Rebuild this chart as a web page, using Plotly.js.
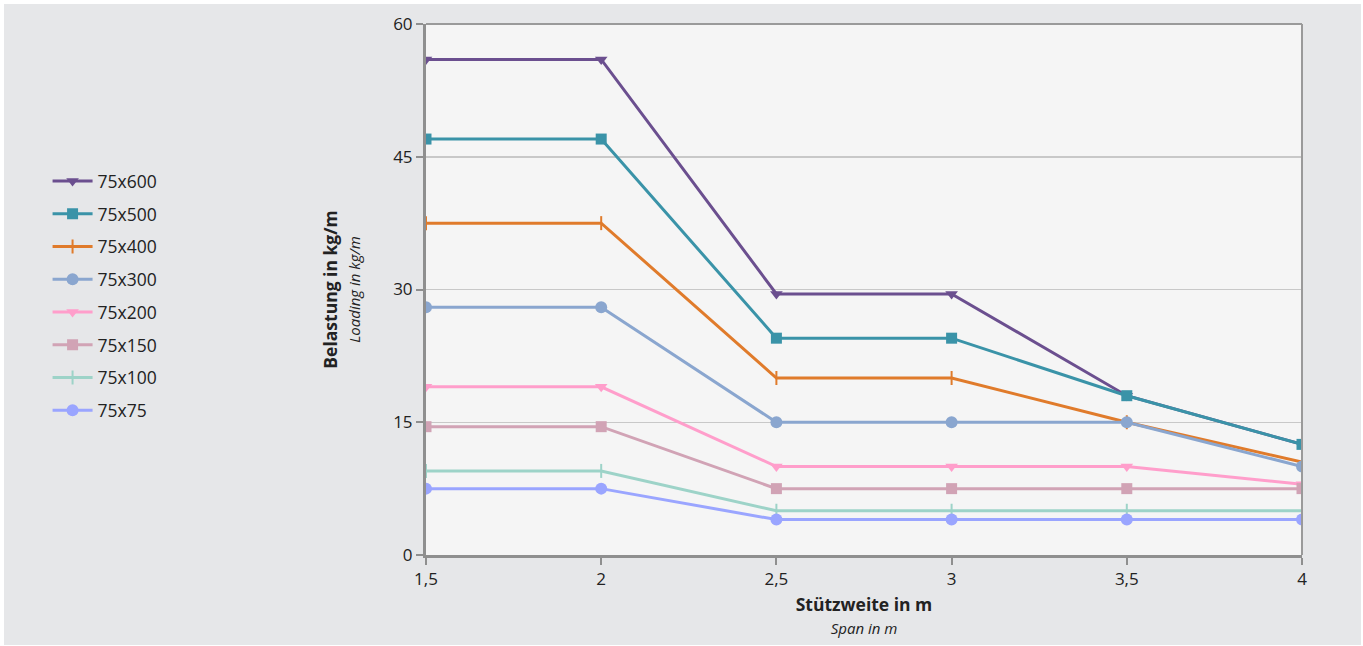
<!DOCTYPE html>
<html><head><meta charset="utf-8">
<script src="https://cdn.plot.ly/plotly-3.0.1.min.js"></script>
<style>
html,body{margin:0;padding:0;background:#ffffff;}
#chart{position:absolute;left:4px;top:4px;width:1357px;height:641px;}
</style></head>
<body><div id="chart"></div>
<script>
const spans = [1.5, 2, 2.5, 3, 3.5, 4];
const seriesNames = ['75x600','75x500','75x400','75x300','75x200','75x150','75x100','75x75'];
const v75x600 = [56, 56, 29.5, 29.5, 18, 12.5];
const v75x500 = [47, 47, 24.5, 24.5, 18, 12.5];
const v75x400 = [37.5, 37.5, 20, 20, 15, 10.5];
const v75x300 = [28, 28, 15, 15, 15, 10];
const v75x200 = [19, 19, 10, 10, 10, 8];
const v75x150 = [14.5, 14.5, 7.5, 7.5, 7.5, 7.5];
const v75x100 = [9.5, 9.5, 5, 5, 5, 5];
const v75x75 = [7.5, 7.5, 4, 4, 4, 4];
const xTickVals = [1.5, 2, 2.5, 3, 3.5, 4];
const xTickText = ['1,5', '2', '2,5', '3', '3,5', '4'];
const yTickVals = [0, 15, 30, 45, 60];

const values = [v75x600, v75x500, v75x400, v75x300, v75x200, v75x150, v75x100, v75x75];
const colors = ['#6b4f8f','#3a93a8','#e07b2b','#8aa6cf','#ff9ecb','#d1a3b5','#9dd3c8','#9aa5ff'];
const symbols = ['triangle-down','square','line-ns','circle','triangle-down','square','line-ns','circle'];

const traces = seriesNames.map((n, i) => {
  const isLine = symbols[i] === 'line-ns';
  return {
    x: spans, y: values[i], name: n, type: 'scatter', mode: 'lines+markers',
    legendgroup: n,
    line: {color: colors[i], width: 3},
    marker: isLine
      ? {symbol: 'line-ns', size: 10, color: colors[i], line: {color: colors[i], width: 2}}
      : {symbol: symbols[i], size: symbols[i]==='circle' ? 12 : 11, color: colors[i]},
    cliponaxis: true
  };
});

const layout = {
  width: 1357, height: 641,
  paper_bgcolor: '#e6e7e9', plot_bgcolor: '#f5f5f5',
  margin: {l: 422, r: 59, t: 20, b: 90},
  separators: ',.',
  font: {family: '"Open Sans", sans-serif', size: 17, color: '#222'},
  showlegend: true,
  legend: {x: -0.432, xanchor: 'left', y: 0.738, yanchor: 'top',
           bgcolor: 'rgba(0,0,0,0)', font: {size: 17.5, color: '#222'},
           tracegroupgap: 7, itemwidth: 40},
  shapes: [
    {type: 'line', xref: 'paper', yref: 'paper', x0: 0, x1: 1, y0: 1, y1: 1,
     line: {color: '#9a9a9a', width: 2}},
    {type: 'line', xref: 'paper', yref: 'paper', x0: 1, x1: 1, y0: 0, y1: 1,
     line: {color: '#9a9a9a', width: 2}}
  ],
  xaxis: {
    range: [1.5, 4], tickvals: xTickVals, ticktext: xTickText,
    showgrid: false, zeroline: false,
    showline: true, linecolor: '#8f8f8f', linewidth: 3, mirror: false,
    ticks: 'outside', ticklen: 7, tickwidth: 2, tickcolor: '#8f8f8f',
    tickfont: {size: 17, color: '#222'},
    title: {text: '<b>Stützweite in m</b><br><i><span style="font-size:15px">Span in m</span></i>',
            font: {size: 17.5, color: '#222'}, standoff: 10}
  },
  yaxis: {
    range: [0, 60], tickvals: yTickVals,
    showgrid: true, gridcolor: '#c8c8c8', gridwidth: 1.5, zeroline: false,
    showline: true, linecolor: '#8f8f8f', linewidth: 3, mirror: false,
    ticks: 'outside', ticklen: 7, tickwidth: 2, tickcolor: '#8f8f8f',
    tickfont: {size: 17, color: '#222'},
    title: {text: '<b>Belastung in kg/m</b><br><i><span style="font-size:15px">Loading in kg/m</span></i>',
            font: {size: 17.5, color: '#222'}, standoff: 29}
  }
};
Plotly.newPlot('chart', traces, layout, {displayModeBar: false, staticPlot: true});
</script></body></html>
